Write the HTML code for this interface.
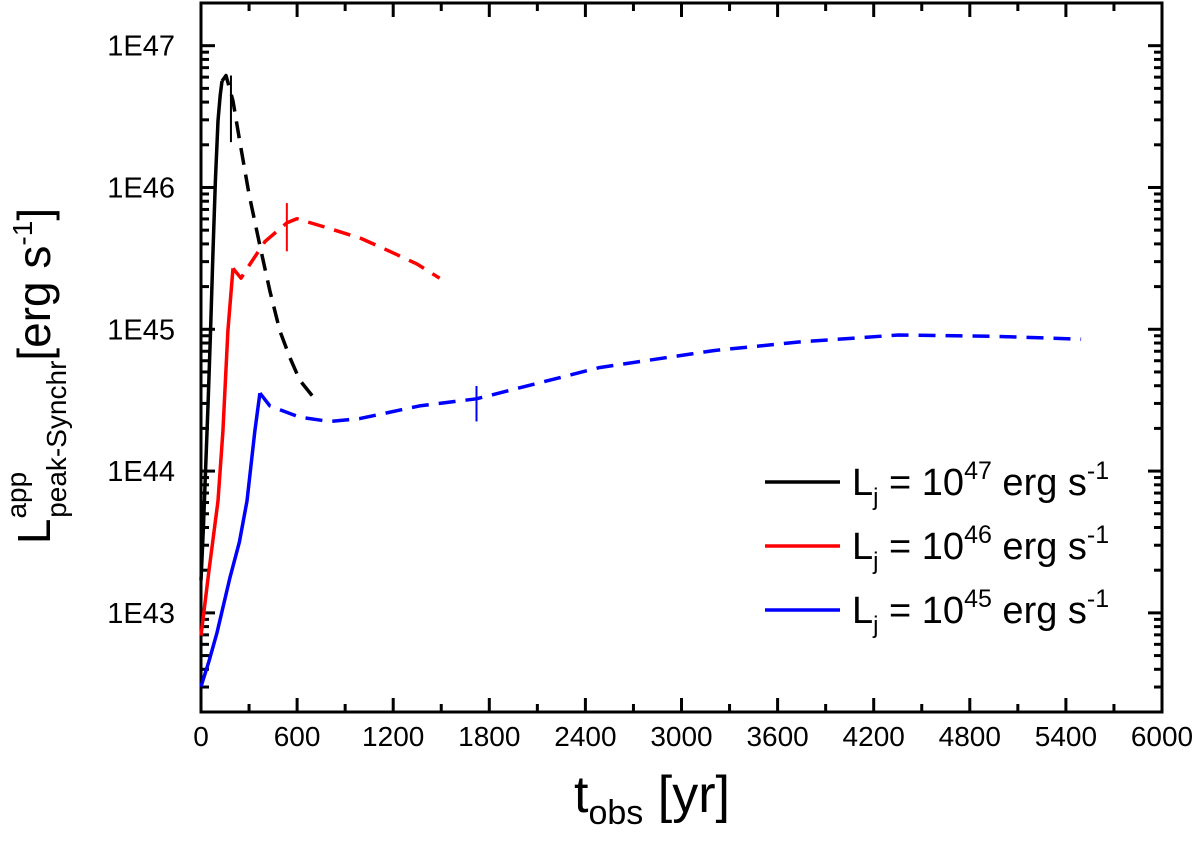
<!DOCTYPE html>
<html><head><meta charset="utf-8"><style>
html,body{margin:0;padding:0;background:#fff;}
svg{display:block;font-family:"Liberation Sans",Arial,sans-serif;}
</style></head><body>
<svg id="chart" width="1200" height="841" viewBox="0 0 1200 841" xmlns="http://www.w3.org/2000/svg"></svg>
<script>
const xTicks=[0,600,1200,1800,2400,3000,3600,4200,4800,5400,6000];
const yDecades=[43,44,45,46,47];
const blackSolidT=[0,15,30,45,60,75,90,106,120,131];
const blackSolidL=[43.23,43.6,44.05,44.5,45.0,45.55,46.05,46.47,46.65,46.75];
const blackDashT=[131,156,200,243,300,368,430,492,555,617,710];
const blackDashL=[46.75,46.79,46.61,46.32,45.95,45.59,45.27,44.99,44.80,44.64,44.51];
const redSolidT=[0,50,106,137,168,200];
const redSolidL=[42.84,43.3,43.79,44.28,44.99,45.43];
const redDashT=[200,250,300,400,536,598,804,1000,1178,1350,1490];
const redDashL=[45.43,45.36,45.45,45.62,45.75,45.78,45.71,45.64,45.55,45.46,45.36];
const blueSolidT=[0,50,100,181,240,287,336,368];
const blueSolidL=[42.48,42.66,42.86,43.25,43.5,43.79,44.28,44.55];
const blueDashT=[368,430,617,804,991,1365,1720,2486,3200,3732,4355,4978,5495];
const blueDashL=[44.55,44.46,44.38,44.35,44.37,44.46,44.51,44.73,44.85,44.91,44.96,44.95,44.93];
const markT=[187,536,1720];
const markLo=[46.32,45.55,44.35];
const markHi=[46.79,45.89,44.60];
const colors=['#000','#f00','#00f'];
const legendExp=['47','46','45'];

const X0=201,X1=1162,Y0=712,Y1=3,LMIN=42.301,LMAX=47.301;
const sx=t=>X0+(t/6000)*(X1-X0);
const sy=l=>Y0-(l-LMIN)/(LMAX-LMIN)*(Y0-Y1);
const svg=document.getElementById('chart');
const NS='http://www.w3.org/2000/svg';
function mk(tag,at,parent){const e=document.createElementNS(NS,tag);for(const k in at)e.setAttribute(k,at[k]);(parent||svg).appendChild(e);return e;}

const ticks=mk('g',{stroke:'#000','stroke-width':3});


for(let t=0;t<=6000;t+=300){const x=sx(t);const L=(t%600===0)?14:8;
  mk('line',{x1:x,y1:Y0,x2:x,y2:Y0-L},ticks);mk('line',{x1:x,y1:Y1,x2:x,y2:Y1+L},ticks);}
for(let d=42;d<=47;d++){for(let m=1;m<=9;m++){const l=d+Math.log10(m);if(l<LMIN||l>LMAX)continue;const y=sy(l);const L=m===1?14:8;
  mk('line',{x1:X0,y1:y,x2:X0+L,y2:y},ticks);mk('line',{x1:X1,y1:y,x2:X1-L,y2:y},ticks);}}
const frame=mk('rect',{x:X0,y:Y1,width:X1-X0,height:Y0-Y1,fill:'none',stroke:'#000','stroke-width':3});



xTicks.forEach(t=>{const e=mk('text',{x:sx(t),y:746,'font-size':28,'text-anchor':'middle'});e.textContent=t;
  
  });
yDecades.forEach(d=>{const e=mk('text',{x:175,y:sy(d)+10,'font-size':29,'text-anchor':'end'});e.textContent='1E'+d;
  
  });

function path(T,L,color,dash,name){const d=T.map((t,i)=>(i?'L':'M')+sx(t).toFixed(1)+','+sy(L[i]).toFixed(1)).join(' ');
  const e=mk('path',{d:d,fill:'none',stroke:color,'stroke-width':3.5,'stroke-dasharray':dash?'17,10':'none','stroke-linejoin':'round'});
  
  }
path(blackSolidT,blackSolidL,colors[0],false,'series-black-solid');
path(blackDashT,blackDashL,colors[0],true,'series-black-dashed');
path(redSolidT,redSolidL,colors[1],false,'series-red-solid');
path(redDashT,redDashL,colors[1],true,'series-red-dashed');
path(blueSolidT,blueSolidL,colors[2],false,'series-blue-solid');
path(blueDashT,blueDashL,colors[2],true,'series-blue-dashed');
markT.forEach((t,i)=>{const e=mk('line',{x1:sx(t),x2:sx(t),y1:sy(markLo[i]),y2:sy(markHi[i]),stroke:colors[i],'stroke-width':2});
  
  });

legendExp.forEach((ex,i)=>{const y=482+i*64;
  const g=mk('g',{});
  
  
  mk('line',{x1:765,x2:840,y1:y,y2:y,stroke:colors[i],'stroke-width':3.5},g);
  const t=mk('text',{x:852,y:y+13,'font-size':38},g);
  t.innerHTML='L<tspan font-size="24" dy="10">j</tspan><tspan dy="-10"> = 10</tspan><tspan font-size="25" dy="-16">'+ex+'</tspan><tspan dy="16"> erg s</tspan><tspan font-size="25" dy="-16">-1</tspan>';
});

const xl=mk('text',{x:652,y:812,'font-size':52,'text-anchor':'middle'});


xl.innerHTML='t<tspan font-size="34" dy="12">obs</tspan><tspan dy="-12"> [yr]</tspan>';
const yl=mk('text',{x:0,y:0,'font-size':46,'text-anchor':'middle',transform:'translate(50,376) rotate(-90)'});


yl.innerHTML='L<tspan font-size="28" dy="-24">app</tspan><tspan font-size="28" dx="-46" dy="40">peak-Synchr</tspan><tspan dy="-16">[erg s</tspan><tspan font-size="28" dy="-18">-1</tspan><tspan dy="18">]</tspan>';
</script>
</body></html>
